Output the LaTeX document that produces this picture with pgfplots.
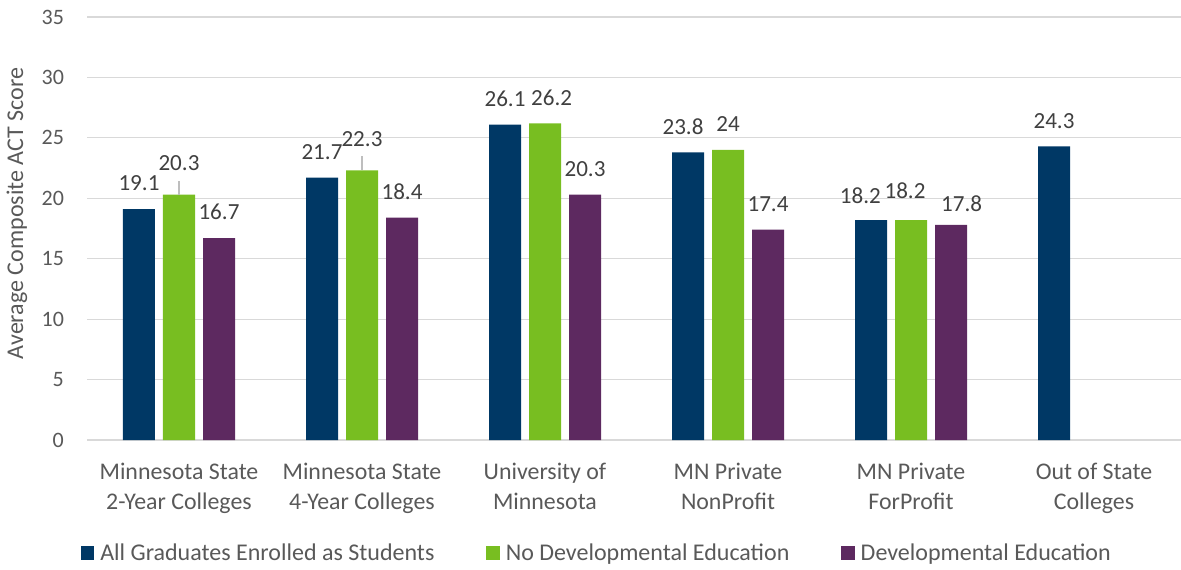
\documentclass[border=0pt]{standalone}
\usepackage{fontspec}
\setmainfont{Carlito}
\usepackage{pgfplots}
\usepackage{pgfplotstable}
\pgfplotsset{compat=1.18}
\definecolor{cblue}{HTML}{003865}
\definecolor{cgreen}{HTML}{78BE21}
\definecolor{cpurple}{HTML}{5D2960}
\definecolor{txt}{HTML}{595959}
\definecolor{lbl}{HTML}{404040}
\definecolor{gridc}{HTML}{D9D9D9}

\pgfplotstableread{
x y dx dy
0 19.1 0 0
1 21.7 0 0
2 26.1 0 0
3 23.8 -3.75 0
4 18.2 -8 -1.1
5 24.3 0 0
}\allgrad
\pgfplotstableread{
x y dx dy
0 20.3 0 4.5
1 22.3 0 4.5
2 26.2 5 0
3 24 0 0
4 18.2 -4.5 2.2
}\nodev
\pgfplotstableread{
x y dx dy
0 16.7 0 0
1 18.4 0 0
2 20.3 0 0
3 17.4 0 0
4 17.8 8 -3.4
}\devel

\pgfplotsset{
  sq legend/.style={legend image code/.code={\fill[##1] (0pt,-5pt) rectangle (10pt,5pt);}},
  lab/.style={
    visualization depends on={\thisrow{dx} \as \mydx},
    visualization depends on={13.4+\thisrow{dy} \as \mydy},
    nodes near coords,
    every node near coord/.append style={font=\fontsize{17.3}{20}\selectfont, text=lbl, anchor=south, inner sep=0pt, xshift=\mydx pt, yshift=\mydy pt},
  },
}

\begin{document}
\begin{tikzpicture}
\useasboundingbox (-65.625pt,-96.75pt) rectangle (820.125pt,330pt);
\begin{axis}[
  at={(0pt,0pt)}, anchor=south west,
  scale only axis, width=823.5pt, height=317.25pt,
  xmin=-0.5, xmax=5.5, ymin=0, ymax=35,
  ytick={0,5,...,35},
  xtick={0,...,5},
  xticklabels={{Minnesota State\\2-Year Colleges},{Minnesota State\\4-Year Colleges},{University of\\Minnesota},{MN Private\\NonProfit},{MN Private\\ForProfit},{Out of State\\Colleges}},
  /pgf/number format/assume math mode=true,
  ymajorgrids, grid style={draw=gridc, line width=0.9pt},
  axis line style={draw=none}, tick style={draw=none},
  ybar=6pt, bar width=24pt,
  clip=false,
  xticklabel style={font=\fontsize{17.9}{22.5}\selectfont, text=txt, align=center, anchor=north, inner sep=0pt, yshift=-13pt},
  yticklabel style={font=\fontsize{16.5}{18}\selectfont, text=txt, anchor=east, inner sep=0pt, xshift=-17.5pt},
  ylabel={Average Composite ACT Score},
  ylabel style={at={(axis description cs:-0.0642,0.5355)}, anchor=center, font=\fontsize{18}{20}\selectfont, text=txt},
  legend style={at={(axis description cs:-0.0062,-0.267)}, anchor=west, draw=none, fill=none, inner sep=0pt,
    font=\fontsize{18}{20}\selectfont, text=txt, nodes={inner sep=0pt},
    /tikz/every even column/.append style={column sep=39pt},
    /tikz/every odd column/.append style={column sep=4.5pt}},
  legend columns=3,
]
\addplot[fill=cblue, draw=none, sq legend, lab] table[x=x,y=y] {\allgrad};
\addplot[fill=cgreen, draw=none, sq legend, lab] table[x=x,y=y] {\nodev};
\addplot[fill=cpurple, draw=none, sq legend, lab] table[x=x,y=y] {\devel};
\legend{All Graduates Enrolled as Students, No Developmental Education, Developmental Education}
\draw[color=gridc!70!gray, line width=0.8pt] (axis cs:0,20.3) -- ++(0pt,10pt);
\draw[color=gridc!70!gray, line width=0.8pt] (axis cs:1,22.3) -- ++(0pt,10.5pt);
\end{axis}
\end{tikzpicture}
\end{document}
